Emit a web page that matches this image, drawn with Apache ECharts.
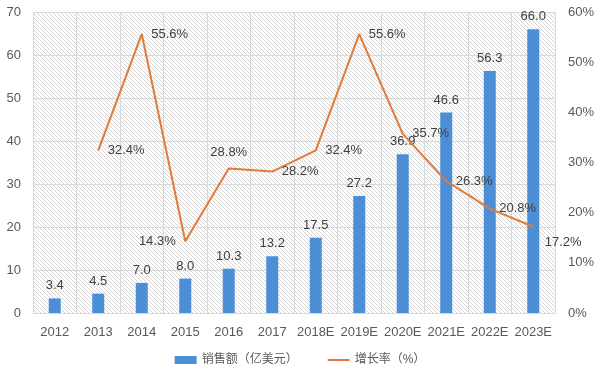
<!DOCTYPE html>
<html lang="zh">
<head>
	<meta charset="utf-8">
	<title>销售额及增长率</title>
	<script src="https://cdn.jsdelivr.net/npm/echarts@6/dist/echarts.min.js"></script>
	<style>
		html, body { margin: 0; padding: 0; background: #fff; }
		#panel { width: 600px; height: 377px; }
	</style>
</head>
<body>
	<div id="panel"></div>
	<script type="text/javascript">
		// 年份
		const years = ['2012', '2013', '2014', '2015', '2016', '2017', '2018E', '2019E', '2020E', '2021E', '2022E', '2023E'];
		// 销售额（亿美元）
		const sales = [3.4, 4.5, 7.0, 8.0, 10.3, 13.2, 17.5, 27.2, 36.9, 46.6, 56.3, 66.0];
		// 增长率（%）
		const growth = [null, 32.4, 55.6, 14.3, 28.8, 28.2, 32.4, 55.6, 35.7, 26.3, 20.8, 17.2];

		// 背景斜线
		const hatch = document.createElement('canvas');
		hatch.width = 4;
		hatch.height = 4;
		const ctx = hatch.getContext('2d');
		ctx.fillStyle = '#ffffff';
		ctx.fillRect(0, 0, 4, 4);
		ctx.fillStyle = '#d6d6d6';
		for (let i = 0; i < 4; i++) ctx.fillRect(i, i, 1, 1);

		// 个别标签位置
		const labelPos = { 3: 'left', 4: 'top', 11: [12, 10] };
		const lineData = growth.map((v, i) => {
			if (labelPos[i] === undefined) return v;
			return { value: v, label: { position: labelPos[i] } };
		});

		const txt = '#595959';
		const panel = echarts.init(document.getElementById('panel'));
		let option = {
			animation: false,
			textStyle: { fontFamily: 'Arial, "Liberation Sans", "Noto Sans CJK SC", sans-serif' },
			grid: {
				left: 33, right: 45, top: 12, bottom: 64,
				show: true,
				borderWidth: 0,
				backgroundColor: { image: hatch, repeat: 'repeat' }
			},
			legend: {
				bottom: 6,
				itemGap: 30,
				itemWidth: 22,
				itemHeight: 8,
				textStyle: { color: txt, fontSize: 12 },
				data: [
					{ name: '销售额（亿美元）', icon: 'rect' },
					{ name: '增长率（%）', icon: 'path://M0,0 H22 V2 H0 Z' }
				]
			},
			xAxis: {
				type: 'category',
				data: years,
				axisTick: { show: false },
				axisLine: { lineStyle: { color: '#d9d9d9' } },
				axisLabel: { color: txt, fontSize: 13, margin: 13, interval: 0 },
				splitLine: { show: true, interval: 0, lineStyle: { color: '#d9d9d9' } }
			},
			yAxis: [{
				type: 'value',
				min: 0, max: 70, interval: 10,
				axisLabel: { color: txt, fontSize: 13, margin: 12 },
				axisLine: { show: false },
				axisTick: { show: false },
				splitLine: { lineStyle: { color: '#d9d9d9' } }
			}, {
				type: 'value',
				min: 0, max: 60, interval: 10,
				axisLabel: { color: txt, fontSize: 13, margin: 13, formatter: '{value}%' },
				axisLine: { show: false },
				axisTick: { show: false },
				splitLine: { show: false }
			}],
			series: [{
				name: '销售额（亿美元）',
				type: 'bar',
				data: sales,
				barWidth: 12,
				itemStyle: { color: '#4d8fd6' },
				label: {
					show: true, position: 'top', distance: 6,
					color: '#404040', fontSize: 13,
					formatter: (p) => p.value.toFixed(1)
				}
			}, {
				name: '增长率（%）',
				type: 'line',
				yAxisIndex: 1,
				data: lineData,
				symbol: 'circle',
				symbolSize: 1,
				showSymbol: true,
				lineStyle: { color: '#e07b39', width: 2 },
				itemStyle: { color: '#e07b39' },
				label: {
					show: true, position: 'right', distance: 9,
					color: '#404040', fontSize: 13,
					formatter: (p) => p.value.toFixed(1) + '%'
				},
				labelLayout: { hideOverlap: false }
			}]
		};
		panel.setOption(option);
	</script>
</body>
</html>
